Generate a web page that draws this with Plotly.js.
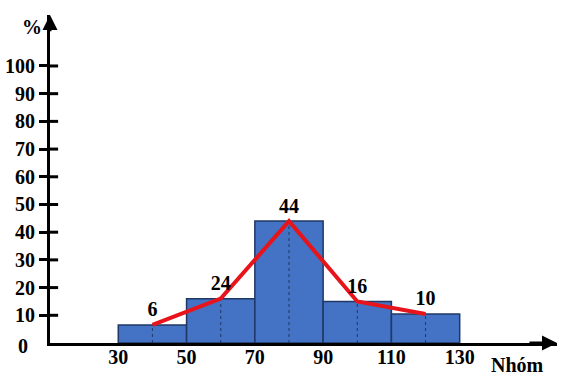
<!DOCTYPE html>
<html>
<head>
<meta charset="utf-8">
<script src="https://cdn.plot.ly/plotly-3.0.1.min.js"></script>
<style>html,body{margin:0;padding:0;background:#fff}#chart{width:575px;height:381px}</style>
</head>
<body>
<div id="chart"></div>
<script>
// Data
var groupLeft = [30, 50, 70, 90, 110];
var groupRight = [50, 70, 90, 110, 130];
var barHeights = [6.5, 16, 44, 15, 10.5];
var pointLabels = ["6", "24", "44", "16", "10"];
var xTickVals = [30, 50, 70, 90, 110, 130];
var yTickVals = [10, 20, 30, 40, 50, 60, 70, 80, 90, 100];

var mids = groupLeft.map(function(l, i){ return (l + groupRight[i]) / 2; });
var widths = groupLeft.map(function(l, i){ return groupRight[i] - l; });

var font = {family: "Liberation Serif", size: 20, color: "#000", weight: 700};
var navy = "#1f3864";

// dotted vertical lines from bar tops to the axis
var dx = [], dy = [];
mids.forEach(function(m, i){ dx.push(m, m, null); dy.push(0, barHeights[i], null); });

var traces = [
  {type: "bar", x: mids, y: barHeights, width: widths,
   marker: {color: "#4472c4", line: {color: navy, width: 1.5}}, hoverinfo: "none"},
  {type: "scatter", mode: "lines", x: dx, y: dy,
   line: {color: navy, width: 1, dash: "dot"}, hoverinfo: "none"},
  {type: "scatter", mode: "lines+markers+text", x: mids, y: barHeights, text: pointLabels,
   textposition: "top center", textfont: font,
   marker: {size: 4, color: "rgba(0,0,0,0)"},
   line: {color: "#e8141b", width: 4}, hoverinfo: "none", cliponaxis: false}
];

var shapes = yTickVals.map(function(v){
  return {type: "line", xref: "paper", yref: "y", x0: 0, x1: 0.016, y0: v, y1: v,
          line: {color: "#000", width: 3}};
});

var annotations = [
  {xref: "x", yref: "y", x: 158.5, y: 0, axref: "x", ayref: "y", ax: 150, ay: 0,
   showarrow: true, arrowhead: 2, arrowsize: 1, arrowwidth: 3, arrowcolor: "#000", text: ""},
  {xref: "x", yref: "y", x: 10, y: 118.4, axref: "x", ayref: "y", ax: 10, ay: 112,
   showarrow: true, arrowhead: 2, arrowsize: 1, arrowwidth: 3, arrowcolor: "#000", text: ""},
  {xref: "paper", yref: "y", x: -0.053, y: 0, yshift: -3, xanchor: "center", yanchor: "middle",
   text: "0", showarrow: false, font: font},
  {xref: "paper", yref: "paper", x: -0.0355, y: 0.963, xanchor: "center", yanchor: "middle",
   text: "%", showarrow: false, font: font},
  {xref: "paper", yref: "paper", x: 0.923, y: -0.067, xanchor: "center", yanchor: "middle",
   text: "Nhóm", showarrow: false, font: font}
];

var layout = {
  width: 575, height: 381,
  margin: {l: 50, r: 18, t: 15, b: 38},
  paper_bgcolor: "#fff", plot_bgcolor: "#fff",
  showlegend: false, bargap: 0,
  xaxis: {range: [10, 158.5], showline: true, linewidth: 3, linecolor: "#000",
          tickvals: xTickVals, ticktext: xTickVals.map(String), ticks: "",
          ticklabelstandoff: -6,
          showgrid: false, zeroline: false, tickfont: font, fixedrange: true},
  yaxis: {range: [0, 118.4], showline: true, linewidth: 3, linecolor: "#000",
          tickvals: yTickVals, ticktext: yTickVals.map(String), ticks: "outside",
          ticklen: 8, tickwidth: 3, tickcolor: "#000",
          showgrid: false, zeroline: false, tickfont: font, fixedrange: true},
  shapes: shapes,
  annotations: annotations
};

Plotly.newPlot("chart", traces, layout, {displayModeBar: false, staticPlot: true});
</script>
</body>
</html>
